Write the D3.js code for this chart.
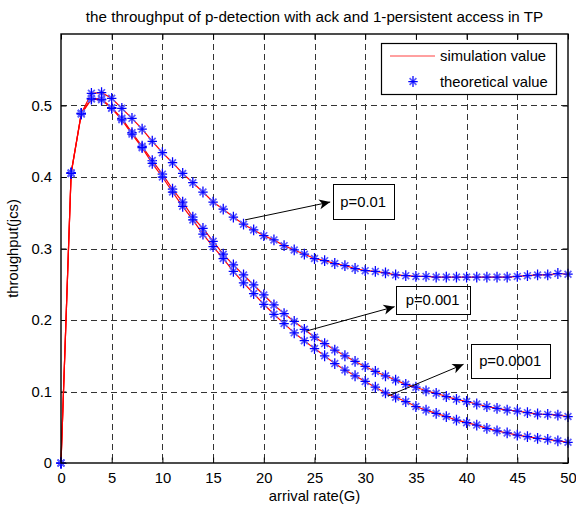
<!DOCTYPE html>
<html>
<head>
<meta charset="utf-8">
<script src="https://cdn.jsdelivr.net/npm/d3@7"></script>
<style>
  html, body { margin: 0; padding: 0; background: #fff; }
  svg { display: block; }
  text { font-family: "Liberation Sans", Arial, Helvetica, sans-serif; fill: #000; }
</style>
</head>
<body>
<svg id="chart" width="576" height="510"></svg>
<script>
// Arrival rate G (one sample per unit)
const arrivalRate = d3.range(0, 51);

// Throughput for the three detection probabilities (theoretical values)
const theoryP01 = [
  0, 0.406, 0.489, 0.517, 0.518, 0.510, 0.496, 0.482, 0.467, 0.450,
  0.434, 0.420, 0.405, 0.392, 0.379, 0.365, 0.355, 0.344, 0.334, 0.326,
  0.318, 0.312, 0.304, 0.298, 0.292, 0.286, 0.283, 0.279, 0.276, 0.272,
  0.269, 0.268, 0.266, 0.263, 0.262, 0.261, 0.261, 0.260, 0.260, 0.260,
  0.260, 0.260, 0.260, 0.260, 0.260, 0.261, 0.262, 0.263, 0.263, 0.265,
  0.264
];
const theoryP001 = [
  0, 0.405, 0.489, 0.510, 0.509, 0.497, 0.482, 0.462, 0.443, 0.423,
  0.404, 0.383, 0.365, 0.344, 0.328, 0.310, 0.292, 0.277, 0.263, 0.249,
  0.235, 0.221, 0.209, 0.198, 0.187, 0.176, 0.167, 0.158, 0.150, 0.142,
  0.135, 0.128, 0.122, 0.116, 0.110, 0.106, 0.101, 0.0975, 0.093, 0.089,
  0.086, 0.0825, 0.079, 0.0765, 0.074, 0.0727, 0.0704, 0.0685, 0.068, 0.067,
  0.065
];
const theoryP0001 = [
  0, 0.405, 0.488, 0.509, 0.508, 0.496, 0.480, 0.460, 0.441, 0.419,
  0.400, 0.379, 0.359, 0.340, 0.320, 0.3025, 0.286, 0.268, 0.252, 0.237,
  0.222, 0.208, 0.195, 0.182, 0.171, 0.160, 0.150, 0.139, 0.130, 0.122,
  0.114, 0.106, 0.098, 0.092, 0.086, 0.079, 0.074, 0.0695, 0.065, 0.060,
  0.0564, 0.053, 0.0485, 0.045, 0.042, 0.039, 0.037, 0.0345, 0.033, 0.031,
  0.029
];

// Simulation results follow the theory curves
const simP01 = theoryP01.slice();
const simP001 = theoryP001.slice();
const simP0001 = theoryP0001.slice();

const xTicks = [0, 5, 10, 15, 20, 25, 30, 35, 40, 45, 50];
const yTicks = [0, 0.1, 0.2, 0.3, 0.4, 0.5];

const titleText = "the throughput of p-detection with ack and 1-persistent access in TP";
const xLabel = "arrival rate(G)";
const yLabel = "throughput(jcs)";
const legendLabels = ["simulation value", "theoretical value"];

// Callouts: label, box extent [G0, G1, thr0, thr1], arrow tail and head (data units)
const callouts = [
  { text: "p=0.01",   box: [26.8, 32.8, 0.341, 0.390], opaque: true,
    from: [18.15, 0.340], to: [26.55, 0.365] },
  { text: "p=0.001",  box: [33.0, 40.3, 0.209, 0.248], opaque: false,
    from: [24.2, 0.1846], to: [32.9, 0.2186] },
  { text: "p=0.0001", box: [40.4, 48.2, 0.1193, 0.1664], opaque: false,
    from: [32.25, 0.0937], to: [39.7, 0.138] }
];

const svg = d3.select("#chart");
const margin = { left: 61, right: 568, top: 34, bottom: 463 };

const x = d3.scaleLinear().domain([0, 50]).range([margin.left, margin.right]);
const y = d3.scaleLinear().domain([0, 0.6]).range([margin.bottom, margin.top]);

const FS = 14.8;

// Title
svg.append("text")
  .attr("x", (margin.left + margin.right) / 2)
  .attr("y", 21.5)
  .attr("text-anchor", "middle")
  .style("font-size", "15.2px")
  .text(titleText);

// Grid (dashed)
const grid = svg.append("g")
  .attr("stroke", "#333")
  .attr("stroke-width", 1)
  .attr("stroke-dasharray", "6,4");
grid.selectAll("line.gx")
  .data(xTicks.filter(d => d > 0 && d < 50))
  .join("line")
  .attr("x1", d => Math.round(x(d)) + 0.5).attr("x2", d => Math.round(x(d)) + 0.5)
  .attr("y1", margin.top).attr("y2", margin.bottom);
grid.selectAll("line.gy")
  .data(yTicks.filter(d => d > 0))
  .join("line")
  .attr("y1", d => Math.round(y(d)) + 0.5).attr("y2", d => Math.round(y(d)) + 0.5)
  .attr("x1", margin.left).attr("x2", margin.right);

// Bottom and left axes with inward ticks and labels
const xAxis = d3.axisBottom(x).tickValues(xTicks).tickSize(-5.5).tickPadding(9).tickFormat(d3.format("d"));
const yAxis = d3.axisLeft(y).tickValues(yTicks).tickSize(-5.5).tickPadding(9).tickFormat(d => d === 0 ? "0" : d3.format(".1f")(d));
const xTop = d3.axisTop(x).tickValues(xTicks).tickSize(-5.5).tickFormat("");
const yRight = d3.axisRight(y).tickValues(yTicks).tickSize(-5.5).tickFormat("");

function styleAxis(g) {
  g.select(".domain").remove();
  g.selectAll(".tick line").attr("stroke", "#000").attr("stroke-width", 1);
  g.selectAll(".tick text")
    .style("font-family", "'Liberation Sans', Arial, sans-serif")
    .style("font-size", FS + "px")
    .attr("fill", "#000");
}
svg.append("g").attr("transform", `translate(0,${margin.bottom})`).call(xAxis).call(styleAxis);
svg.append("g").attr("transform", `translate(${margin.left},0)`).call(yAxis).call(styleAxis);
svg.append("g").attr("transform", `translate(0,${margin.top})`).call(xTop).call(styleAxis);
svg.append("g").attr("transform", `translate(${margin.right},0)`).call(yRight).call(styleAxis);

// Simulation curves (red lines)
const line = d3.line().x((d, i) => x(arrivalRate[i])).y(d => y(d));
const curves = svg.append("g");
[simP01, simP001, simP0001].forEach(series => {
  curves.append("path")
    .attr("d", line(series))
    .attr("fill", "none")
    .attr("stroke", "#ff0000")
    .attr("stroke-width", 1.2);
});

// Asterisk marker for theoretical values
function star(sel) {
  sel.append("path")
    .attr("d", "M-3.4,-3.4L3.4,3.4M-3.4,3.4L3.4,-3.4")
    .attr("stroke", "#5b5bff").attr("stroke-width", 1.7).attr("fill", "none");
  sel.append("path")
    .attr("d", "M-4.7,0H4.7M0,-5.4V5.4")
    .attr("stroke", "#0000ff").attr("stroke-width", 1.25).attr("fill", "none");
}

const markers = svg.append("g");
[theoryP01, theoryP001, theoryP0001].forEach(series => {
  markers.append("g").selectAll("g")
    .data(series)
    .join("g")
    .attr("transform", (d, i) => `translate(${x(arrivalRate[i])},${y(d)})`)
    .call(star);
});

// Callout boxes with arrows
const arrowHead = (x1, y1, x2, y2) => {
  const ang = Math.atan2(y2 - y1, x2 - x1);
  const L = 11, W = 5, back = 3;
  const c = Math.cos(ang), s = Math.sin(ang);
  const p = (a, b) => [x2 + a * c - b * s, y2 + a * s + b * c];
  const pts = [p(0, 0), p(-L, W), p(-L + back, 0), p(-L, -W)];
  return "M" + pts.map(q => q.join(",")).join("L") + "Z";
};
const co = svg.append("g");
callouts.forEach(c => {
  const bx0 = x(c.box[0]), bx1 = x(c.box[1]);
  const by0 = y(c.box[3]), by1 = y(c.box[2]);
  co.append("rect")
    .attr("x", Math.round(bx0) + 0.5).attr("y", Math.round(by0) + 0.5)
    .attr("width", Math.round(bx1 - bx0)).attr("height", Math.round(by1 - by0))
    .attr("fill", c.opaque ? "#fff" : "none")
    .attr("stroke", "#000").attr("stroke-width", 1);
  co.append("text")
    .attr("x", (bx0 + bx1) / 2).attr("y", (by0 + by1) / 2 + 5.3)
    .attr("text-anchor", "middle")
    .style("font-size", FS + "px")
    .text(c.text);
  const [fx, fy] = [x(c.from[0]), y(c.from[1])];
  const [tx, ty] = [x(c.to[0]), y(c.to[1])];
  co.append("line")
    .attr("x1", fx).attr("y1", fy).attr("x2", tx).attr("y2", ty)
    .attr("stroke", "#000").attr("stroke-width", 1);
  co.append("path").attr("d", arrowHead(fx, fy, tx, ty)).attr("fill", "#000");
});

// Plot frame
svg.append("rect")
  .attr("x", margin.left).attr("y", margin.top)
  .attr("width", margin.right - margin.left).attr("height", margin.bottom - margin.top)
  .attr("fill", "none").attr("stroke", "#000").attr("stroke-width", 1.4);

// Legend
const lg = svg.append("g");
lg.append("rect")
  .attr("x", 381.5).attr("y", 43.5).attr("width", 175).attr("height", 51)
  .attr("fill", "#fff").attr("stroke", "#000").attr("stroke-width", 1.2);
lg.append("line")
  .attr("x1", 390).attr("x2", 435).attr("y1", 56).attr("y2", 56)
  .attr("stroke", "#ff4040").attr("stroke-width", 1);
lg.append("g").attr("transform", "translate(413,81.5)").call(star);
lg.selectAll("text.lab")
  .data(legendLabels)
  .join("text")
  .attr("x", 440)
  .attr("y", (d, i) => 61.2 + i * 25.5)
  .style("font-size", FS + "px")
  .text(d => d);

// Axis titles
svg.append("text")
  .attr("x", (margin.left + margin.right) / 2)
  .attr("y", 501)
  .attr("text-anchor", "middle")
  .style("font-size", FS + "px")
  .text(xLabel);
svg.append("text")
  .attr("transform", `translate(17.5,${(margin.top + margin.bottom) / 2}) rotate(-90)`)
  .attr("text-anchor", "middle")
  .style("font-size", FS + "px")
  .text(yLabel);
</script>
</body>
</html>
